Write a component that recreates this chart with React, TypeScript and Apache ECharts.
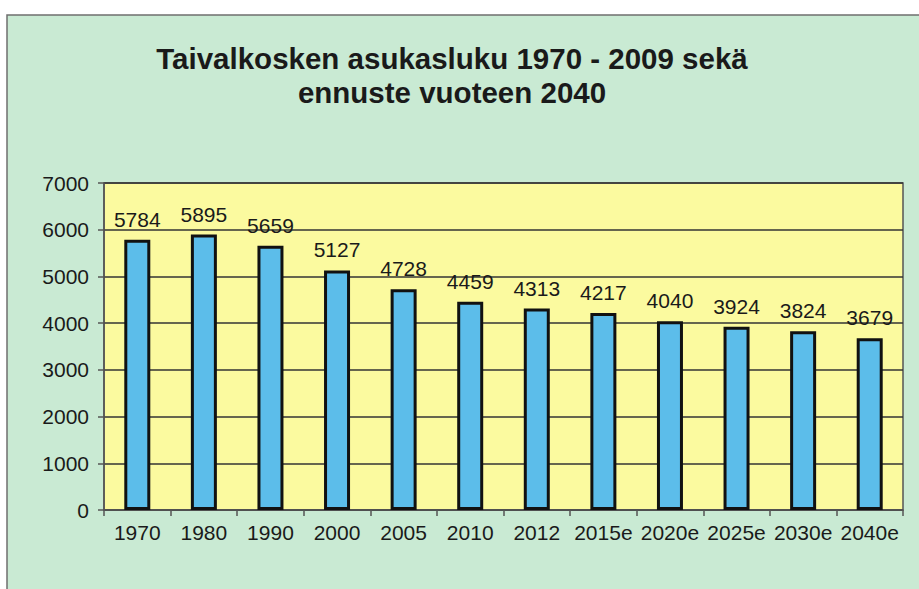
import React, { useEffect, useRef } from "react";
import * as echarts from "echarts";

const titleText = "Taivalkosken asukasluku 1970 - 2009 sekä\nennuste vuoteen 2040";
const categories = ["1970", "1980", "1990", "2000", "2005", "2010", "2012", "2015e", "2020e", "2025e", "2030e", "2040e"];
const population = [5784, 5895, 5659, 5127, 4728, 4459, 4313, 4217, 4040, 3924, 3824, 3679];
const yMin = 0;
const yMax = 7000;
const yStep = 1000;

const FONT = "Arial, 'Liberation Sans', sans-serif";

export default function App() {
  const ref = useRef<HTMLDivElement>(null);
  useEffect(() => {
    if (!ref.current) return;
    const chart = echarts.init(ref.current, undefined, { renderer: "svg" });
    chart.setOption({
      animation: false,
      backgroundColor: "#ffffff",
      graphic: [
        {
          type: "rect",
          z: -10,
          silent: true,
          shape: { x: 7, y: 15, width: 930, height: 590 },
          style: { fill: "#c9ead3", stroke: "#6f6f6f", lineWidth: 1.5 },
        },
      ],
      title: {
        text: titleText,
        left: 447,
        textAlign: "center",
        top: 36,
        textStyle: {
          fontFamily: FONT,
          fontWeight: "bold",
          fontSize: 29.5,
          lineHeight: 34,
          color: "#1a1a1a",
        },
      },
      grid: {
        left: 104,
        right: 16,
        top: 183,
        bottom: 79,
        show: true,
        backgroundColor: "#fbfa9f",
        borderColor: "#555555",
        borderWidth: 1.5,
      },
      xAxis: {
        type: "category",
        data: categories,
        axisLine: { lineStyle: { color: "#555555", width: 1.5 } },
        axisTick: { show: true, alignWithLabel: false, length: 6, lineStyle: { color: "#555555", width: 1.5 } },
        axisLabel: { interval: 0, fontFamily: FONT, fontSize: 21, color: "#1a1a1a", margin: 12 },
      },
      yAxis: {
        type: "value",
        min: yMin,
        max: yMax,
        interval: yStep,
        axisLine: { show: true, lineStyle: { color: "#555555", width: 1.5 } },
        axisTick: { show: true, length: 6, lineStyle: { color: "#555555", width: 1.5 } },
        axisLabel: {
          fontFamily: FONT,
          fontSize: 21,
          color: "#1a1a1a",
          margin: 15,
          formatter: (v: number) => String(v),
        },
        splitLine: { show: true, lineStyle: { color: "#333333", width: 1.5 } },
      },
      series: [
        {
          type: "bar",
          data: population,
          barWidth: 26,
          itemStyle: { color: "#5cbdea", borderColor: "#111111", borderWidth: 3 },
          label: {
            show: true,
            position: "top",
            distance: 10,
            fontFamily: FONT,
            fontSize: 21,
            color: "#1a1a1a",
          },
        },
      ],
    });
    return () => chart.dispose();
  }, []);
  return (
    <div
      ref={ref}
      style={{ position: "absolute", left: 0, top: 0, width: 919, height: 589 }}
    />
  );
}
